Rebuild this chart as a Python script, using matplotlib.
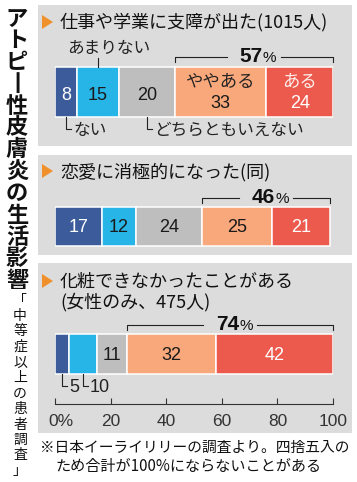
import numpy as np
import matplotlib.pyplot as plt
from matplotlib.patches import Rectangle, Polygon

## ================= DATA ================= ##
categories = ["ない", "あまりない", "どちらともいえない", "ややある", "ある"]
questions = ["仕事や学業に支障が出た(1015人)",
             "恋愛に消極的になった(同)",
             "化粧できなかったことがある\n(女性のみ、475人)"]
vals_work = [8, 15, 20, 33, 24]
vals_love = [17, 12, 24, 25, 21]
vals_makeup = [5, 10, 11, 32, 42]
share_yes = [57, 46, 74]          # ややある + ある
tick_vals = [0, 20, 40, 60, 80, 100]
tick_labels = ["0%", "20", "40", "60", "80", "100"]
side_title = "アトピー性皮膚炎の生活影響"
side_note = "中等症以上の患者調査"
footnote = ["※日本イーライリリーの調査より。四捨五入の",
            "ため合計が100%にならないことがある"]

## ================= STYLE ================= ##
JP = ['Noto Sans CJK JP', 'DejaVu Sans']
NUM = ['Liberation Sans', 'DejaVu Sans']
plt.rcParams['font.family'] = JP

colors = ["#3b5b9b", "#27b4e6", "#bebebe", "#f8a87a", "#ec5a4e"]
txt_colors = ["white", "#1a1a1a", "#1a1a1a", "#1a1a1a", "white"]
BG = "#dcdcdc"
DARK = "#222222"

W, H = 357, 482
PX = 100 / 278          # percent per pixel on the bar scale

fig = plt.figure(figsize=(W / 100, H / 100), dpi=100)
fig.patch.set_facecolor("white")
ax = fig.add_axes([55 / W, 0, 278 / W, 1])
ax.set_xlim(0, 100)
ax.set_ylim(H, 0)
ax.patch.set_visible(False)
for s in ax.spines.values():
    s.set_visible(False)
ax.set_yticks([])


def ftxt(x, y, s, **kw):
    fig.text(x / W, 1 - y / H, s, **kw)


def panel(y0, y1):
    fig.add_artist(Rectangle((38 / W, 1 - y1 / H), (352 - 38) / W, (y1 - y0) / H,
                             transform=fig.transFigure, facecolor=BG,
                             edgecolor="none", zorder=-5))


def arrow(yc):
    pts = [(42 / W, 1 - (yc - 7) / H), (42 / W, 1 - (yc + 7) / H), (53 / W, 1 - yc / H)]
    fig.add_artist(Polygon(pts, closed=True, transform=fig.transFigure,
                           facecolor="#f0902a", edgecolor="none", zorder=2))


def bracket(vals, pct, y):
    x0 = sum(vals[:3])
    x1 = sum(vals)
    xc = (x0 + x1) / 2
    kw = dict(color=DARK, lw=0.8, clip_on=False)
    ax.plot([x0, x0, xc - 27 * PX], [y + 5, y, y], **kw)
    ax.plot([xc + 27 * PX, x1, x1], [y, y, y + 5], **kw)
    ax.text(xc + 9 * PX, y + 5, str(pct), ha="right", va="baseline",
            fontsize=15, fontweight="bold", family=NUM, color="#111111")
    ax.text(xc + 9 * PX, y + 5, "%", ha="left", va="baseline",
            fontsize=11, family=NUM, color="#111111")


def bars(vals, yc, h):
    lefts = np.concatenate([[0], np.cumsum(vals)[:-1]])
    ax.barh(yc, vals, left=lefts, height=h, color=colors,
            edgecolor="white", linewidth=1.1)
    return lefts + np.array(vals) / 2


def leader(xc, ytop, ybot, label, fs, fam=JP):
    ax.plot([xc, xc, xc + 5 * PX], [ytop, ybot, ybot], color=DARK, lw=0.8, clip_on=False)
    ax.text(xc + 7 * PX, ybot + 1, label, ha="left", va="center",
            fontsize=fs, family=fam, color=DARK)


## ================= PANELS ================= ##
panel(5, 146)
panel(155, 255)
panel(263, 433)

# panel titles
tkw = dict(fontsize=13, va="center", color="#111111")
arrow(22)
ftxt(60, 22, questions[0], **tkw)
arrow(171)
ftxt(60, 172, questions[1], **tkw)
arrow(281)
ftxt(60, 292, questions[2], linespacing=1.15, **tkw)

# --- panel 1 ---
mid = bars(vals_work, 92, 50)
for i in range(3):
    ax.text(mid[i], 95, str(vals_work[i]), ha="center", va="center",
            fontsize=13, family=NUM, color=txt_colors[i])
for i in (3, 4):
    ax.text(mid[i], 82, categories[i], ha="center", va="center",
            fontsize=12.5, color="#fff0ec" if i == 4 else DARK)
    ax.text(mid[i], 104, str(vals_work[i]), ha="center", va="center",
            fontsize=13, family=NUM, color=txt_colors[i])
ax.text(mid[1] - 31 * PX, 48, categories[1], ha="left", va="center",
        fontsize=12, color=DARK)
ax.plot([mid[1], mid[1]], [58, 67], color=DARK, lw=0.8, clip_on=False)
leader(mid[0], 117, 129, categories[0], 12)
leader(mid[2], 117, 129, categories[2], 12)
bracket(vals_work, share_yes[0], 57)

# --- panel 2 ---
mid = bars(vals_love, 226.5, 39)
for i in range(5):
    ax.text(mid[i], 227, str(vals_love[i]), ha="center", va="center",
            fontsize=13, family=NUM, color=txt_colors[i])
bracket(vals_love, share_yes[1], 198)

# --- panel 3 ---
mid = bars(vals_makeup, 354, 40)
for i in range(2, 5):
    ax.text(mid[i], 355, str(vals_makeup[i]), ha="center", va="center",
            fontsize=13, family=NUM, color=txt_colors[i])
leader(mid[0], 374, 386, str(vals_makeup[0]), 13, NUM)
leader(mid[1], 374, 386, str(vals_makeup[1]), 13, NUM)
bracket(vals_makeup, share_yes[2], 325)

## ================= AXIS ================= ##
ax.spines["bottom"].set_visible(True)
ax.spines["bottom"].set_position(("data", 404))
ax.spines["bottom"].set_bounds(0, 100)
ax.spines["bottom"].set_color("#333333")
ax.spines["bottom"].set_linewidth(0.8)
ax.set_xticks(tick_vals)
ax.tick_params(axis="x", direction="in", length=4, width=0.8,
               colors="#333333", labelbottom=False)
for v, lab in zip(tick_vals, tick_labels):
    if v == 0:
        ax.text(v - 7 * PX, 421, lab, ha="left", va="center",
                fontsize=12.5, family=NUM, color="#333333")
    else:
        ax.text(v, 421, lab, ha="center", va="center",
                fontsize=12.5, family=NUM, color="#333333")

## ================= SIDE TEXT / FOOTNOTE ================= ##
for i, ch in enumerate(side_title):
    ftxt(17, 19 + i * 21.8, "丨" if ch == "ー" else ch, fontsize=16,
         fontweight="bold", ha="center", va="center", color="#111111")

ftxt(20, 300, "「", fontsize=10, ha="center", va="center", color="#111111")
for i, ch in enumerate(side_note):
    ftxt(20, 316 + i * 15.5, ch, fontsize=10, ha="center", va="center",
         color="#111111")
ftxt(19, 471, "」", fontsize=10, ha="center", va="center", color="#111111")

ftxt(40, 448, footnote[0], fontsize=10.6, ha="left", va="center", color="#111111")
ftxt(55, 467, footnote[1], fontsize=10.9, ha="left", va="center", color="#111111")

fig.savefig("out.png", dpi=100)
